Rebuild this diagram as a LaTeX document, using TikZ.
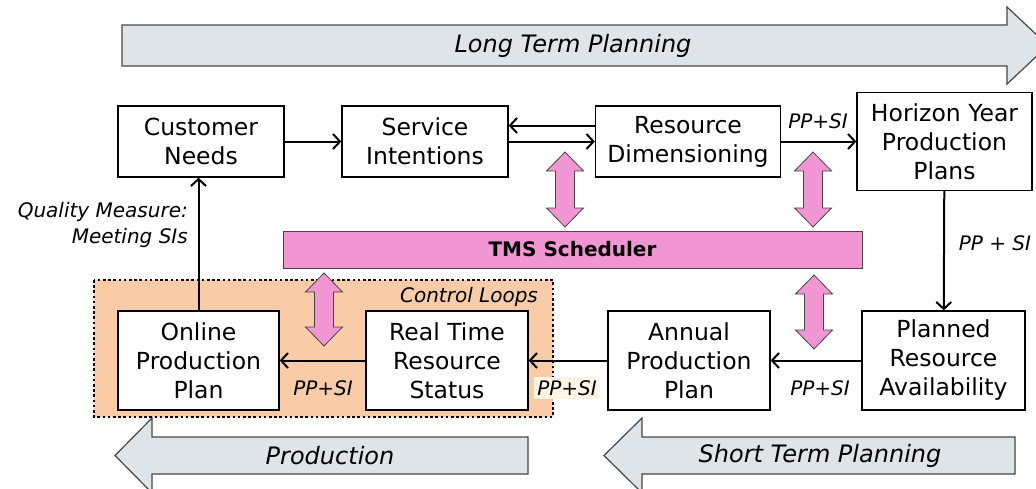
\documentclass[tikz,border=0pt]{standalone}
\usepackage{fontspec}
\setmainfont{DejaVu Sans}
\usetikzlibrary{arrows.meta}

\definecolor{bandfill}{RGB}{222,228,232}
\definecolor{tmspink}{RGB}{241,150,210}
\definecolor{loopfill}{RGB}{249,203,166}
\definecolor{creamfill}{RGB}{255,245,228}
\definecolor{edgegray}{RGB}{70,70,70}

\tikzset{
  box/.style={draw=black, line width=1.3pt, fill=white, align=center,
    inner sep=0pt, font=\fontsize{23.5}{29}\selectfont},
  flow/.style={draw=black, line width=2pt,
    -{Straight Barb[length=7pt,width=15pt,line width=2pt]}},
  lbl/.style={font=\fontsize{20}{26}\selectfont\itshape, inner sep=1pt},
  band/.style={draw=edgegray, line width=1.2pt, fill=bandfill},
  bandtext/.style={font=\fontsize{24}{28}\selectfont\itshape},
  pinkarr/.style={draw=edgegray, line width=0.8pt, fill=tmspink},
}

% vertical two-headed block arrow: centre x, top y, bottom y
\newcommand{\pinkupdown}[3]{%
  \draw[pinkarr] (#1,#2) -- (#1+18.5,#2+19) -- (#1+9.5,#2+19)
    -- (#1+9.5,#3-19) -- (#1+18.5,#3-19) -- (#1,#3)
    -- (#1-18.5,#3-19) -- (#1-9.5,#3-19) -- (#1-9.5,#2+19)
    -- (#1-18.5,#2+19) -- cycle;}

\begin{document}
\begin{tikzpicture}[x=1pt,y=-1pt]
\useasboundingbox (0,0) rectangle (1036,488);
\clip (0,0) rectangle (1036,488);

% time-scale bands
\draw[band] (122,25) -- (1007,25) -- (1007,7) -- (1048,45.5) -- (1007,84)
  -- (1007,66) -- (122,66) -- cycle;
\node[bandtext] (ltp) at (573,46) {Long Term Planning};

\draw[band] (528,437) -- (152,437) -- (152,418) -- (115,455.5) -- (152,493)
  -- (152,474) -- (528,474) -- cycle;
\node[bandtext] (prod) at (330,456) {Production};

\draw[band] (1015,437) -- (642,437) -- (642,418) -- (604,455.5) -- (642,493)
  -- (642,474) -- (1015,474) -- cycle;
\node[bandtext] (stp) at (820,456) {Short Term Planning};

% control loop region
\draw[line width=2.6pt, dash pattern=on 2.6pt off 2.6pt, fill=loopfill]
  (94,280) rectangle (553,417);
\node[lbl] (cl) at (469,297) {Control Loops};

% scheduler
\node[draw=edgegray, line width=1pt, fill=tmspink, minimum width=579pt,
  minimum height=37pt, inner sep=0pt,
  font=\fontsize{20}{24}\selectfont\bfseries] (tms) at (572.5,249.5) {TMS Scheduler};

\pinkupdown{565}{152}{227}
\pinkupdown{813}{152}{227}
\pinkupdown{324}{273}{346}
\pinkupdown{814}{275}{349}

% planning steps
\node[box, minimum width=166pt, minimum height=71pt] (cust) at (201,141.5) {Customer\\Needs};
\node[box, minimum width=166pt, minimum height=71pt] (serv) at (425,141.5) {Service\\Intentions};
\node[box, minimum width=185pt, minimum height=71pt] (resd) at (688,141.5) {Resource\\Dimensioning};
\node[box, minimum width=175pt, minimum height=98pt] (hor) at (944.5,141.5) {Horizon Year\\Production\\Plans};

\node[box, minimum width=161pt, minimum height=99pt] (online) at (198.5,360.5) {Online\\Production\\Plan};
\node[box, minimum width=162pt, minimum height=99pt] (rts) at (447,360.5) {Real Time\\Resource\\Status};
\node[box, minimum width=162pt, minimum height=99pt] (annual) at (689,360.5) {Annual\\Production\\Plan};
\node[box, minimum width=163pt, minimum height=99pt] (planned) at (943.5,360.5) {Planned\\Resource\\Availability};

% information flow
\coordinate (back) at ([yshift=16pt]resd.west);
\draw[flow] (cust) -- (serv);
\draw[flow] (back) -- (back -| serv.east);
\draw[flow] (serv.east) -- (resd.west);
\draw[flow] (resd) -- (hor);
\draw[flow] (hor) -- (planned);
\draw[flow] (planned) -- (annual);
\draw[flow] (annual) -- (rts);
\draw[flow] (rts) -- (online);
\draw[flow] (online.north) -- (online.north |- cust.south);

% flow labels
\node[lbl] (l1) at (818,121) {PP+SI};
\node[lbl] (l2) at (995,243) {PP + SI};
\node[lbl] (l3) at (820,388) {PP+SI};
\node[lbl, fill=creamfill, inner sep=3pt] (l4) at (567,388) {PP+SI};
\node[lbl] (l5) at (323,388) {PP+SI};
\node[lbl, align=right, anchor=east] (qm) at (189,225) {Quality Measure:\\Meeting SIs};
\end{tikzpicture}
\end{document}
